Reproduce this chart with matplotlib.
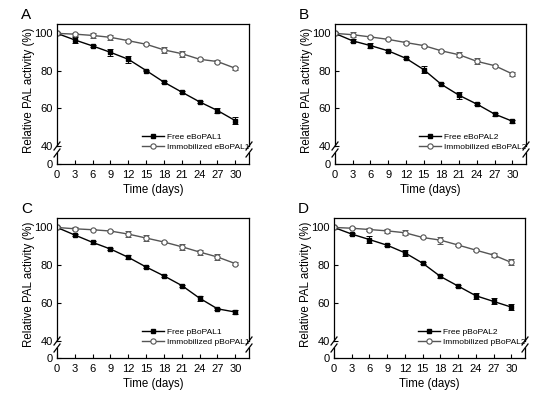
import matplotlib
matplotlib.use("Agg")
import matplotlib.pyplot as plt
from matplotlib.lines import Line2D

plt.rcParams["font.family"] = ["Liberation Sans", "DejaVu Sans"]

DAYS = [0, 3, 6, 9, 12, 15, 18, 21, 24, 27, 30]

A_FREE = [100, 96.5, 93.3, 89.9, 86.2, 80.2, 74.0, 68.7, 63.5, 58.9, 53.5]
A_FREE_ERR = [0.8, 1.5, 0.7, 1.8, 1.8, 0.5, 0.7, 0.5, 0.7, 1.5, 1.8]
A_IMM = [100, 99.6, 98.9, 97.9, 96.1, 94.2, 91.2, 89.2, 86.2, 85.0, 81.4]
A_IMM_ERR = [0.5, 0.8, 1.5, 1.5, 0.5, 0.6, 1.6, 1.6, 0.7, 1.0, 0.8]

B_FREE = [100, 96.0, 93.5, 90.7, 86.7, 80.7, 72.8, 67.0, 62.3, 57.0, 53.2]
B_FREE_ERR = [0.8, 0.8, 1.5, 0.6, 0.5, 1.8, 0.5, 1.8, 0.6, 0.8, 0.8]
B_IMM = [100, 99.3, 98.1, 96.8, 95.1, 93.5, 90.7, 88.6, 85.1, 82.8, 78.4]
B_IMM_ERR = [0.5, 1.2, 0.6, 0.4, 1.0, 0.5, 0.5, 1.4, 1.6, 0.5, 0.9]

C_FREE = [100, 96.0, 92.1, 88.6, 84.2, 79.1, 74.4, 69.3, 62.6, 57.0, 55.3]
C_FREE_ERR = [0.8, 0.5, 0.8, 0.5, 1.0, 0.5, 0.5, 0.5, 1.3, 0.7, 1.0]
C_IMM = [100, 99.3, 98.8, 98.1, 96.5, 94.4, 92.3, 89.8, 87.0, 84.4, 80.9]
C_IMM_ERR = [0.5, 0.9, 0.4, 0.5, 1.5, 1.8, 0.5, 1.6, 1.3, 1.8, 0.9]

D_FREE = [100, 96.5, 93.6, 90.6, 86.6, 81.1, 74.1, 69.0, 63.9, 60.9, 57.9]
D_FREE_ERR = [0.8, 0.7, 1.8, 0.5, 1.5, 0.5, 0.7, 0.7, 1.6, 1.6, 1.6]
D_IMM = [100, 99.6, 98.9, 98.2, 97.2, 94.7, 93.3, 90.7, 88.0, 85.4, 81.5]
D_IMM_ERR = [0.5, 0.5, 1.0, 1.1, 1.2, 0.5, 1.8, 0.6, 0.5, 1.0, 1.6]

PANELS = [
    ("A", "eBoPAL1", A_FREE, A_FREE_ERR, A_IMM, A_IMM_ERR),
    ("B", "eBoPAL2", B_FREE, B_FREE_ERR, B_IMM, B_IMM_ERR),
    ("C", "pBoPAL1", C_FREE, C_FREE_ERR, C_IMM, C_IMM_ERR),
    ("D", "pBoPAL2", D_FREE, D_FREE_ERR, D_IMM, D_IMM_ERR),
]

W, H = 554, 394
# pixel boxes: left, right, top-axes top, top-axes bottom, low-axes top, low-axes bottom
BOXES = [
    (57, 249, 24, 146, 153, 164),
    (335, 526, 24, 146, 153, 164),
    (57, 249, 218, 341, 348, 358),
    (334, 525, 218, 341, 348, 358),
]

FS = 8
IMM_COLOR = "#555555"


def fig_rect(left, right, top, bottom):
    return [left / W, 1 - bottom / H, (right - left) / W, (bottom - top) / H]


def slash(fig, x, y):
    fig.add_artist(Line2D([(x - 3) / W, (x + 3) / W], [1 - (y + 4) / H, 1 - (y - 4) / H],
                          color="black", lw=0.9, transform=fig.transFigure))


fig = plt.figure(figsize=(W / 100, H / 100), dpi=100)

for (letter, name, free, free_err, imm, imm_err), box in zip(PANELS, BOXES):
    left, right, t1, b1, t2, b2 = box
    ax = fig.add_axes(fig_rect(left, right, t1, b1))
    low = fig.add_axes(fig_rect(left, right, t2, b2))

    ax.errorbar(DAYS, free, yerr=free_err, fmt="none", ecolor="black", elinewidth=0.7, capsize=2, capthick=0.7)
    ax.errorbar(DAYS, imm, yerr=imm_err, fmt="none", ecolor=IMM_COLOR, elinewidth=0.7, capsize=2, capthick=0.7)
    ax.plot(DAYS, free, color="black", lw=1.0, marker="s", ms=3.2, label=f"Free {name}")
    ax.plot(DAYS, imm, color=IMM_COLOR, lw=1.0, marker="o", ms=3.8, mfc="white", mec=IMM_COLOR, mew=0.8,
            label=f"Immobilized {name}")

    for a in (ax, low):
        a.set_xlim(0, 32.3)
        for s in a.spines.values():
            s.set_linewidth(0.9)
        a.tick_params(direction="in", length=3, width=0.8, labelsize=FS, pad=3,
                      top=False, right=False)

    ax.set_ylim(40, 105)
    ax.set_yticks([40, 60, 80, 100])
    ax.spines["bottom"].set_visible(False)
    ax.tick_params(axis="x", bottom=False, labelbottom=False)
    ax.set_ylabel("Relative PAL activity (%)", fontsize=8.3)
    ax.yaxis.set_label_coords(-0.115, 0.46)

    low.set_ylim(0, 1)
    low.set_yticks([0])
    low.set_xticks(DAYS)
    low.spines["top"].set_visible(False)
    low.tick_params(axis="x", pad=4)
    low.set_xlabel("Time (days)", fontsize=8.3, labelpad=3)

    for xx in (left, right):
        slash(fig, xx, b1)
        slash(fig, xx, t2)

    ax.legend(loc="lower right", bbox_to_anchor=(1.03, -0.08), frameon=False, fontsize=6,
              handlelength=2.6, handletextpad=0.4, labelspacing=0.25, borderaxespad=0.2)

    fig.text((left - 36) / W, 1 - (t1 - 9) / H, letter, fontsize=11, ha="left", va="center")

fig.savefig("out.png", dpi=100)
